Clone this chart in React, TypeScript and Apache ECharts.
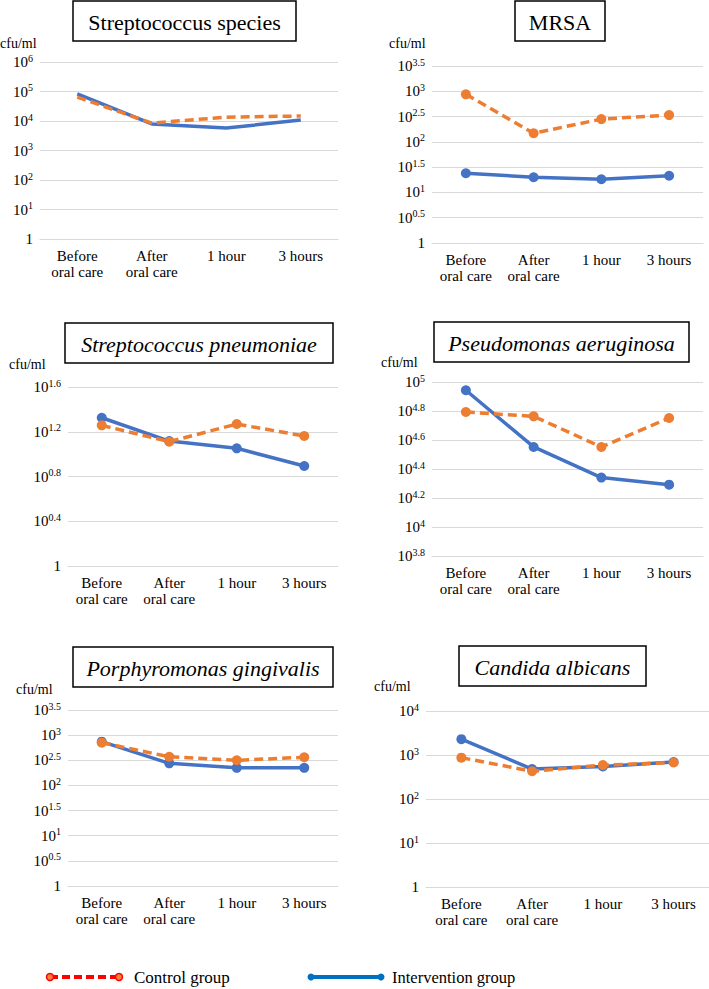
import React, { useEffect, useRef } from "react";
import * as echarts from "echarts";

// Category labels (x axis)
const categories = ["Before\noral care", "After\noral care", "1 hour", "3 hours"];

// Values are log10(cfu/ml)
const strepSppControl = [4.81, 3.93, 4.13, 4.17];
const strepSppIntervention = [4.92, 3.9, 3.76, 4.03];

const mrsaControl = [2.94, 2.17, 2.45, 2.53];
const mrsaIntervention = [1.38, 1.3, 1.26, 1.33];

const pneumoControl = [1.257, 1.111, 1.269, 1.162];
const pneumoIntervention = [1.325, 1.117, 1.052, 0.894];

const aeruginosaControl = [4.793, 4.763, 4.552, 4.752];
const aeruginosaIntervention = [4.943, 4.552, 4.341, 4.292];

const gingivalisControl = [2.85, 2.57, 2.5, 2.56];
const gingivalisIntervention = [2.87, 2.44, 2.35, 2.35];

const candidaControl = [2.94, 2.63, 2.77, 2.83];
const candidaIntervention = [3.36, 2.68, 2.74, 2.84];

// Axis ranges (log10 exponents) and tick steps
const yMins = [0, 0, 0, 3.8, 0, 0];
const yMaxs = [6, 3.5, 1.6, 5, 3.5, 4];
const ySteps = [1, 0.5, 0.4, 0.2, 0.5, 1];

const panelTitles = [
  "Streptococcus species",
  "MRSA",
  "Streptococcus pneumoniae",
  "Pseudomonas aeruginosa",
  "Porphyromonas gingivalis",
  "Candida albicans",
];
const titleItalic = [false, false, true, true, true, true];
const controlSeries = [strepSppControl, mrsaControl, pneumoControl, aeruginosaControl, gingivalisControl, candidaControl];
const interventionSeries = [
  strepSppIntervention,
  mrsaIntervention,
  pneumoIntervention,
  aeruginosaIntervention,
  gingivalisIntervention,
  candidaIntervention,
];
const showMarkers = [false, true, true, true, true, true];

const legendNames = ["Control group", "Intervention group"];
const unitLabel = "cfu/ml";

// Layout (pixels)
const grids = [
  { left: 40, top: 62, width: 298, height: 177 },
  { left: 432, top: 66, width: 271, height: 177 },
  { left: 68, top: 387, width: 270, height: 179 },
  { left: 432, top: 382, width: 271, height: 174 },
  { left: 68, top: 710, width: 270, height: 176 },
  { left: 426, top: 711, width: 283, height: 176 },
];
const titleBoxes = [
  { x: 73, y: 1, w: 223, h: 40 },
  { x: 515, y: 1, w: 90, h: 40 },
  { x: 65, y: 323, w: 268, h: 40 },
  { x: 434, y: 322, w: 255, h: 40 },
  { x: 73, y: 647, w: 260, h: 40 },
  { x: 459, y: 646, w: 187, h: 40 },
];
const unitPos = [
  { x: 0, y: 43 },
  { x: 389, y: 43 },
  { x: 9, y: 364 },
  { x: 381, y: 362 },
  { x: 16, y: 689 },
  { x: 374, y: 686 },
];

const FONT = "Liberation Serif";
const BLUE = "#4472C4";
const ORANGE = "#ED7D31";

function fmtExp(v: number): string {
  const e = Math.round(v * 10) / 10;
  if (e === 0) return "1";
  return "10{s|" + String(e) + "}";
}

export default function App() {
  const ref = useRef<HTMLDivElement>(null);
  useEffect(() => {
    document.body.style.margin = "0";
    if (!ref.current) return;
    const chart = echarts.init(ref.current, null, { renderer: "svg" });

    const xAxis: any[] = [];
    const yAxis: any[] = [];
    const series: any[] = [];
    const graphic: any[] = [];

    grids.forEach((g, i) => {
      xAxis.push({
        type: "category",
        gridIndex: i,
        data: categories,
        boundaryGap: true,
        axisLine: { show: true, lineStyle: { color: "#d9d9d9", width: 1 } },
        axisTick: { show: false },
        axisLabel: {
          color: "#000",
          fontFamily: FONT,
          fontSize: 15,
          lineHeight: 16,
          margin: 9,
          interval: 0,
        },
      });
      yAxis.push({
        type: "value",
        gridIndex: i,
        min: yMins[i],
        max: yMaxs[i],
        interval: ySteps[i],
        axisLine: { show: false },
        axisTick: { show: false },
        splitLine: { show: true, lineStyle: { color: "#d9d9d9", width: 1 } },
        axisLabel: {
          color: "#000",
          fontFamily: FONT,
          fontSize: 15,
          margin: 7,
          formatter: fmtExp,
          rich: {
            s: {
              fontFamily: FONT,
              fontSize: 10,
              color: "#000",
              padding: [0, 0, 8, 0],
            },
          },
        },
      });
      series.push({
        name: legendNames[1],
        type: "line",
        xAxisIndex: i,
        yAxisIndex: i,
        data: interventionSeries[i],
        symbol: showMarkers[i] ? "circle" : "none",
        symbolSize: 10,
        itemStyle: { color: BLUE },
        lineStyle: { color: BLUE, width: 3.5 },
        z: 2,
      });
      series.push({
        name: legendNames[0],
        type: "line",
        xAxisIndex: i,
        yAxisIndex: i,
        data: controlSeries[i],
        symbol: showMarkers[i] ? "circle" : "none",
        symbolSize: 10,
        itemStyle: { color: ORANGE },
        lineStyle: { color: ORANGE, width: 3.5, type: [9, 5] },
        z: 3,
      });

      const b = titleBoxes[i];
      graphic.push({
        type: "rect",
        shape: { x: b.x, y: b.y, width: b.w, height: b.h },
        style: { fill: "#fff", stroke: "#000", lineWidth: 1.5 },
      });
      graphic.push({
        type: "text",
        x: b.x + b.w / 2,
        y: b.y + b.h / 2 + 1,
        style: {
          text: panelTitles[i],
          fill: "#000",
          font: (titleItalic[i] ? "italic " : "") + "22px " + FONT,
          align: "center",
          verticalAlign: "middle",
        },
      });
      const u = unitPos[i];
      graphic.push({
        type: "text",
        x: u.x,
        y: u.y,
        style: {
          text: unitLabel,
          fill: "#000",
          font: "14px " + FONT,
          align: "left",
          verticalAlign: "middle",
        },
      });
    });

    // Legend (drawn)
    const ly = 977;
    graphic.push({
      type: "line",
      shape: { x1: 50, y1: ly, x2: 119, y2: ly },
      style: { stroke: "#FF0000", lineWidth: 4, lineDash: [8, 4] },
    });
    [50, 119].forEach((cx) =>
      graphic.push({
        type: "circle",
        shape: { cx, cy: ly, r: 3.5 },
        style: { fill: "#F5803A", stroke: "#FF0000", lineWidth: 1.5 },
      })
    );
    graphic.push({
      type: "text",
      x: 134,
      y: ly,
      style: {
        text: legendNames[0],
        fill: "#000",
        font: "17px " + FONT,
        align: "left",
        verticalAlign: "middle",
      },
    });
    graphic.push({
      type: "line",
      shape: { x1: 311, y1: ly, x2: 381, y2: ly },
      style: { stroke: "#0070C0", lineWidth: 4 },
    });
    [311, 381].forEach((cx) =>
      graphic.push({
        type: "circle",
        shape: { cx, cy: ly, r: 3.5 },
        style: { fill: "#0070C0" },
      })
    );
    graphic.push({
      type: "text",
      x: 392,
      y: ly,
      style: {
        text: legendNames[1],
        fill: "#000",
        font: "16.5px " + FONT,
        align: "left",
        verticalAlign: "middle",
      },
    });

    chart.setOption({
      animation: false,
      backgroundColor: "#fff",
      grid: grids.map((g) => ({ ...g, containLabel: false })),
      xAxis,
      yAxis,
      series,
      graphic,
    });
    return () => chart.dispose();
  }, []);
  return (
    <div
      ref={ref}
      style={{ position: "absolute", left: 0, top: 0, width: 709, height: 989, background: "#fff" }}
    />
  );
}
